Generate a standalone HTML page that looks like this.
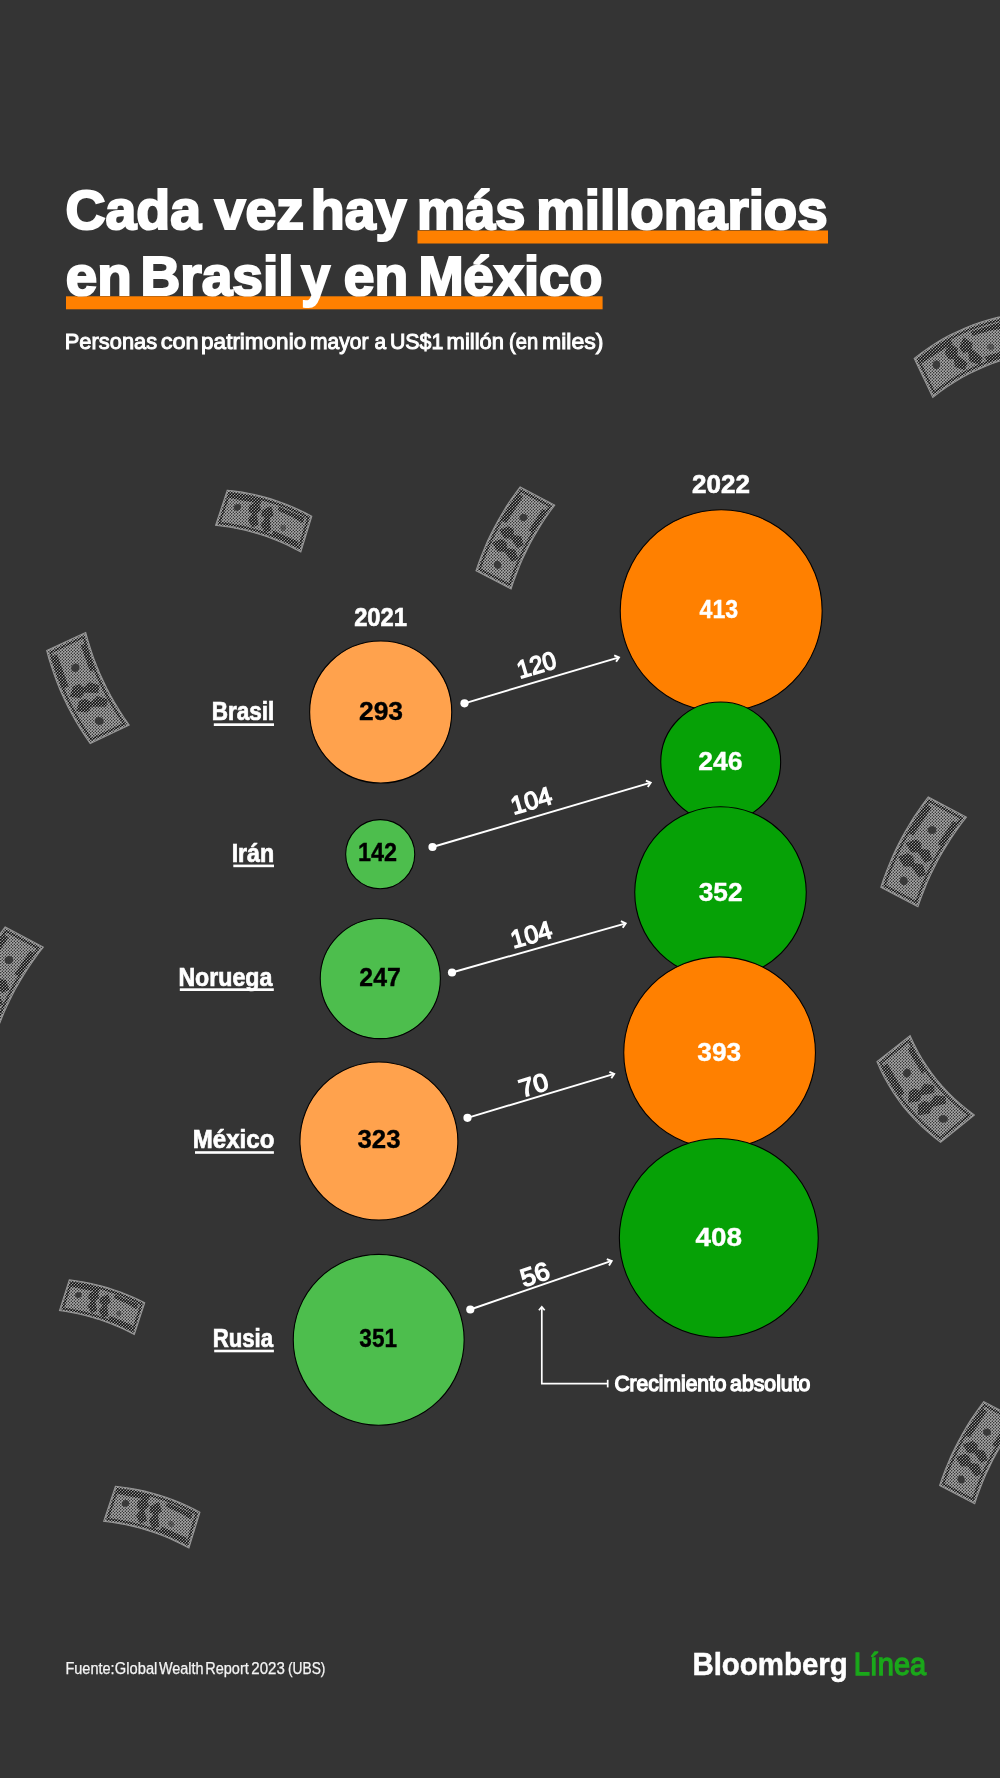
<!DOCTYPE html>
<html lang="es"><head><meta charset="utf-8"><title>Cada vez hay más millonarios en Brasil y en México</title>
<style>
html,body{margin:0;padding:0;background:#343434;}
body{width:1000px;height:1778px;overflow:hidden;font-family:"Liberation Sans", sans-serif;}
svg{display:block;will-change:transform;}
text{font-family:"Liberation Sans", sans-serif;white-space:pre;}
</style></head><body>
<svg width="1000" height="1778" viewBox="0 0 1000 1778">
<defs><pattern id="htL" width="3" height="3" patternUnits="userSpaceOnUse"><rect width="3" height="3" fill="#acacac"/><circle cx="0.75" cy="0.75" r="0.69" fill="#161616"/><circle cx="2.25" cy="2.25" r="0.69" fill="#161616"/></pattern><pattern id="htD" width="3" height="3" patternUnits="userSpaceOnUse"><rect width="3" height="3" fill="#969696"/><circle cx="0.75" cy="0.75" r="1.02" fill="#0c0c0c"/><circle cx="2.25" cy="2.25" r="1.02" fill="#0c0c0c"/></pattern></defs>
<g><path d="M227.3 490.2 L234.7 491.1 L242.1 492.1 L249.4 493.5 L256.6 495.0 L263.8 496.9 L270.9 498.9 L277.9 501.2 L284.8 503.7 L291.7 506.5 L298.4 509.5 L305.2 512.7 L311.8 516.2 L300.8 551.9 L294.1 548.4 L287.3 545.1 L280.5 542.0 L273.6 539.2 L266.6 536.6 L259.5 534.3 L252.4 532.2 L245.2 530.3 L237.9 528.7 L230.5 527.3 L223.1 526.2 L215.6 525.3Z" fill="url(#htL)" stroke="#969696" stroke-width="1.1" stroke-linejoin="miter"/>
<path d="M229.3 493.1 L236.2 494.0 L243.1 495.1 L249.9 496.4 L256.7 497.9 L263.4 499.6 L270.0 501.6 L276.6 503.7 L283.1 506.0 L289.5 508.6 L295.9 511.4 L302.2 514.3 L308.4 517.5 L299.1 547.8 L292.8 544.6 L286.4 541.6 L280.0 538.8 L273.5 536.2 L267.0 533.8 L260.4 531.6 L253.7 529.7 L246.9 527.9 L240.1 526.4 L233.3 525.0 L226.4 523.9 L219.4 523.0Z" fill="none" stroke="url(#htD)" stroke-width="2.2"/>
<path d="M250.1 505.7 L258.1 501.5 L260.3 509.7 L255.9 513.9 L257.9 524.5 L252.3 526.8 L248.5 519.7 L252.8 513.9 L249.0 510.7Z" fill="url(#htD)" stroke="url(#htD)" stroke-width="1.2" stroke-linejoin="round"/>
<path d="M262.9 510.5 L270.8 506.7 L272.9 515.2 L269.1 517.8 L270.6 530.2 L265.1 532.2 L261.4 524.8 L266.1 517.7 L261.9 515.6Z" fill="url(#htD)" stroke="url(#htD)" stroke-width="1.2" stroke-linejoin="round"/>
<path d="M230.6 494.2 L261.2 500.0 L260.2 503.2 L229.6 497.4Z" fill="url(#htD)" stroke="url(#htD)" stroke-width="1.2" stroke-linejoin="round"/>
<path d="M279.3 507.2 L303.9 517.8 L302.4 522.5 L293.1 516.8 L278.4 510.1Z" fill="url(#htD)" stroke="url(#htD)" stroke-width="1.2" stroke-linejoin="round"/>
<path d="M273.6 531.3 L298.2 542.2 L297.1 545.8 L272.5 534.8Z" fill="url(#htD)" stroke="url(#htD)" stroke-width="1.2" stroke-linejoin="round"/>
<path d="M240.9 508.0 L240.3 509.2 L239.1 510.1 L237.8 510.7 L236.3 510.7 L235.0 510.2 L234.1 509.3 L233.7 508.1 L233.9 506.8 L234.6 505.5 L235.7 504.6 L237.1 504.0 L238.5 504.0 L239.8 504.5 L240.7 505.4 L241.1 506.6Z" fill="#333" fill-opacity="0.90"/>
<path d="M285.9 529.0 L285.3 530.0 L284.4 530.7 L283.3 530.9 L282.2 530.7 L281.2 530.0 L280.5 529.0 L280.1 527.9 L280.3 526.7 L280.8 525.7 L281.7 525.0 L282.8 524.8 L284.0 525.0 L285.0 525.6 L285.7 526.6 L286.0 527.8Z" fill="#333" fill-opacity="0.55"/></g>
<g><path d="M115.4 1486.3 L122.8 1487.2 L130.2 1488.2 L137.5 1489.6 L144.7 1491.1 L151.9 1493.0 L158.9 1495.0 L166.0 1497.3 L172.9 1499.8 L179.8 1502.6 L186.5 1505.6 L193.3 1508.8 L199.9 1512.3 L188.9 1548.0 L182.2 1544.5 L175.4 1541.2 L168.6 1538.1 L161.7 1535.3 L154.7 1532.7 L147.6 1530.4 L140.5 1528.3 L133.3 1526.4 L126.0 1524.8 L118.6 1523.4 L111.2 1522.3 L103.7 1521.4Z" fill="url(#htL)" stroke="#969696" stroke-width="1.1" stroke-linejoin="miter"/>
<path d="M117.4 1489.2 L124.3 1490.1 L131.2 1491.2 L138.0 1492.5 L144.8 1494.0 L151.5 1495.7 L158.1 1497.7 L164.7 1499.8 L171.2 1502.1 L177.6 1504.7 L184.0 1507.5 L190.3 1510.4 L196.5 1513.6 L187.2 1543.9 L180.9 1540.7 L174.5 1537.7 L168.1 1534.9 L161.6 1532.3 L155.1 1529.9 L148.5 1527.7 L141.8 1525.8 L135.0 1524.0 L128.2 1522.5 L121.4 1521.1 L114.5 1520.0 L107.5 1519.1Z" fill="none" stroke="url(#htD)" stroke-width="2.2"/>
<path d="M138.2 1501.8 L146.2 1497.6 L148.4 1505.8 L144.0 1510.0 L146.0 1520.6 L140.4 1522.9 L136.6 1515.8 L140.9 1510.0 L137.1 1506.8Z" fill="url(#htD)" stroke="url(#htD)" stroke-width="1.2" stroke-linejoin="round"/>
<path d="M151.0 1506.6 L158.9 1502.8 L161.0 1511.3 L157.2 1513.9 L158.7 1526.3 L153.2 1528.3 L149.5 1520.9 L154.2 1513.8 L150.0 1511.7Z" fill="url(#htD)" stroke="url(#htD)" stroke-width="1.2" stroke-linejoin="round"/>
<path d="M118.7 1490.3 L149.3 1496.1 L148.3 1499.3 L117.7 1493.5Z" fill="url(#htD)" stroke="url(#htD)" stroke-width="1.2" stroke-linejoin="round"/>
<path d="M167.4 1503.3 L192.0 1513.9 L190.5 1518.6 L181.2 1512.9 L166.5 1506.2Z" fill="url(#htD)" stroke="url(#htD)" stroke-width="1.2" stroke-linejoin="round"/>
<path d="M161.7 1527.4 L186.3 1538.3 L185.2 1541.9 L160.6 1530.9Z" fill="url(#htD)" stroke="url(#htD)" stroke-width="1.2" stroke-linejoin="round"/>
<path d="M129.0 1504.1 L128.4 1505.3 L127.2 1506.2 L125.9 1506.8 L124.4 1506.8 L123.1 1506.3 L122.2 1505.4 L121.8 1504.2 L122.0 1502.9 L122.7 1501.6 L123.8 1500.7 L125.2 1500.1 L126.6 1500.1 L127.9 1500.6 L128.8 1501.5 L129.2 1502.7Z" fill="#333" fill-opacity="0.90"/>
<path d="M174.0 1525.1 L173.4 1526.1 L172.5 1526.8 L171.4 1527.0 L170.3 1526.8 L169.3 1526.1 L168.6 1525.1 L168.2 1524.0 L168.4 1522.8 L168.9 1521.8 L169.8 1521.1 L170.9 1520.9 L172.1 1521.1 L173.1 1521.7 L173.8 1522.7 L174.1 1523.9Z" fill="#333" fill-opacity="0.55"/></g>
<g><path d="M69.3 1279.9 L75.9 1280.8 L82.4 1281.8 L88.9 1283.1 L95.3 1284.5 L101.7 1286.1 L108.0 1287.9 L114.3 1289.9 L120.5 1292.1 L126.6 1294.5 L132.7 1297.0 L138.7 1299.8 L144.7 1302.7 L134.3 1334.5 L128.4 1331.5 L122.4 1328.6 L116.4 1326.0 L110.3 1323.5 L104.1 1321.2 L97.9 1319.1 L91.6 1317.2 L85.3 1315.5 L78.9 1314.0 L72.5 1312.6 L66.0 1311.5 L59.5 1310.5Z" fill="url(#htL)" stroke="#969696" stroke-width="1.1" stroke-linejoin="miter"/>
<path d="M71.1 1282.5 L77.2 1283.4 L83.3 1284.4 L89.4 1285.6 L95.4 1287.0 L101.3 1288.5 L107.2 1290.2 L113.1 1292.1 L118.9 1294.1 L124.7 1296.3 L130.4 1298.7 L136.0 1301.2 L141.6 1303.9 L132.8 1330.9 L127.2 1328.2 L121.6 1325.5 L116.0 1323.1 L110.2 1320.8 L104.5 1318.7 L98.7 1316.8 L92.8 1315.0 L86.9 1313.4 L80.9 1311.9 L74.9 1310.6 L68.9 1309.5 L62.8 1308.5Z" fill="none" stroke="url(#htD)" stroke-width="2.2"/>
<path d="M89.6 1293.8 L96.6 1290.2 L98.6 1297.4 L94.7 1301.1 L96.5 1310.4 L91.6 1312.4 L88.3 1306.2 L92.0 1301.1 L88.7 1298.2Z" fill="url(#htD)" stroke="url(#htD)" stroke-width="1.2" stroke-linejoin="round"/>
<path d="M101.0 1298.1 L108.0 1294.8 L109.8 1302.3 L106.4 1304.6 L107.7 1315.5 L102.8 1317.3 L99.6 1310.7 L103.8 1304.4 L100.1 1302.6Z" fill="url(#htD)" stroke="url(#htD)" stroke-width="1.2" stroke-linejoin="round"/>
<path d="M72.3 1283.5 L99.4 1288.9 L98.5 1291.7 L71.4 1286.2Z" fill="url(#htD)" stroke="url(#htD)" stroke-width="1.2" stroke-linejoin="round"/>
<path d="M115.6 1295.2 L137.5 1304.3 L136.2 1308.4 L127.8 1303.5 L114.8 1297.7Z" fill="url(#htD)" stroke="url(#htD)" stroke-width="1.2" stroke-linejoin="round"/>
<path d="M110.3 1316.5 L132.1 1325.9 L131.1 1329.1 L109.3 1319.6Z" fill="url(#htD)" stroke="url(#htD)" stroke-width="1.2" stroke-linejoin="round"/>
<path d="M81.5 1295.7 L80.9 1296.8 L80.0 1297.6 L78.7 1298.0 L77.5 1298.0 L76.4 1297.6 L75.6 1296.8 L75.2 1295.7 L75.3 1294.6 L75.9 1293.5 L76.9 1292.6 L78.1 1292.2 L79.4 1292.2 L80.5 1292.6 L81.3 1293.4 L81.7 1294.5Z" fill="#333" fill-opacity="0.90"/>
<path d="M121.3 1314.4 L120.8 1315.3 L120.0 1315.9 L119.0 1316.1 L118.0 1315.9 L117.1 1315.3 L116.4 1314.4 L116.2 1313.4 L116.3 1312.4 L116.8 1311.5 L117.6 1310.9 L118.6 1310.7 L119.6 1310.9 L120.5 1311.4 L121.1 1312.3 L121.4 1313.4Z" fill="#333" fill-opacity="0.55"/></g>
<g><path d="M914.2 358.4 L921.1 353.1 L928.1 348.1 L935.2 343.5 L942.5 339.1 L949.9 335.1 L957.5 331.4 L965.2 327.9 L973.1 324.8 L981.1 322.0 L989.3 319.5 L997.6 317.4 L1006.0 315.5 L1024.6 354.5 L1016.2 356.4 L1007.9 358.5 L999.7 361.0 L991.7 363.8 L983.8 366.9 L976.1 370.4 L968.5 374.1 L961.1 378.1 L953.8 382.5 L946.7 387.1 L939.7 392.1 L932.8 397.4Z" fill="url(#htL)" stroke="#969696" stroke-width="1.1" stroke-linejoin="miter"/>
<path d="M918.2 359.3 L924.7 354.4 L931.3 349.8 L938.0 345.5 L944.8 341.5 L951.8 337.8 L958.9 334.3 L966.1 331.1 L973.5 328.1 L980.9 325.5 L988.5 323.1 L996.3 321.0 L1004.1 319.1 L1019.9 352.3 L1012.1 354.1 L1004.4 356.2 L996.8 358.6 L989.3 361.3 L981.9 364.2 L974.7 367.4 L967.6 370.9 L960.6 374.7 L953.8 378.7 L947.1 383.0 L940.5 387.6 L934.0 392.4Z" fill="none" stroke="url(#htD)" stroke-width="2.2"/>
<path d="M945.5 353.3 L948.9 343.5 L957.2 348.8 L956.9 355.8 L967.0 363.2 L964.2 369.5 L955.4 366.5 L954.4 358.1 L948.7 358.4Z" fill="url(#htD)" stroke="url(#htD)" stroke-width="1.2" stroke-linejoin="round"/>
<path d="M960.1 347.4 L963.7 338.0 L972.2 343.7 L971.0 348.9 L982.1 358.3 L979.1 364.3 L970.1 360.7 L968.4 351.1 L963.3 352.5Z" fill="url(#htD)" stroke="url(#htD)" stroke-width="1.2" stroke-linejoin="round"/>
<path d="M920.2 359.1 L950.3 339.8 L952.0 343.3 L921.8 362.6Z" fill="url(#htD)" stroke="url(#htD)" stroke-width="1.2" stroke-linejoin="round"/>
<path d="M971.3 332.0 L1000.5 322.7 L1002.9 327.8 L990.4 329.9 L972.8 335.1Z" fill="url(#htD)" stroke="url(#htD)" stroke-width="1.2" stroke-linejoin="round"/>
<path d="M985.4 357.0 L1014.8 348.0 L1016.6 351.9 L987.3 360.9Z" fill="url(#htD)" stroke="url(#htD)" stroke-width="1.2" stroke-linejoin="round"/>
<path d="M939.8 362.4 L940.2 364.0 L940.0 365.7 L939.3 367.3 L938.1 368.4 L936.7 369.0 L935.2 369.0 L933.9 368.3 L933.0 367.1 L932.5 365.5 L932.7 363.7 L933.4 362.2 L934.6 361.0 L936.0 360.4 L937.5 360.5 L938.8 361.2Z" fill="#333" fill-opacity="0.90"/>
<path d="M994.0 345.8 L994.3 347.0 L994.1 348.3 L993.3 349.3 L992.2 350.0 L990.8 350.2 L989.4 349.9 L988.2 349.1 L987.4 348.0 L987.1 346.7 L987.3 345.4 L988.1 344.4 L989.2 343.7 L990.6 343.5 L992.0 343.9 L993.2 344.7Z" fill="#333" fill-opacity="0.55"/></g>
<g><path d="M520.2 486.9 L515.4 493.3 L510.8 499.8 L506.4 506.4 L502.3 513.2 L498.3 520.0 L494.5 526.9 L490.9 534.0 L487.5 541.1 L484.4 548.4 L481.4 555.8 L478.6 563.2 L476.0 570.8 L511.1 589.0 L513.6 581.4 L516.4 574.0 L519.3 566.6 L522.4 559.3 L525.8 552.2 L529.3 545.1 L533.0 538.2 L537.0 531.4 L541.1 524.7 L545.4 518.0 L550.0 511.5 L554.7 505.1Z" fill="url(#htL)" stroke="#969696" stroke-width="1.1" stroke-linejoin="miter"/>
<path d="M520.9 490.7 L516.5 496.7 L512.3 502.9 L508.2 509.1 L504.3 515.4 L500.6 521.8 L497.1 528.3 L493.8 534.9 L490.6 541.6 L487.6 548.4 L484.7 555.2 L482.1 562.2 L479.6 569.2 L509.4 584.7 L511.9 577.7 L514.5 570.7 L517.3 563.8 L520.2 557.1 L523.4 550.4 L526.7 543.8 L530.2 537.3 L533.8 530.9 L537.7 524.6 L541.7 518.3 L545.9 512.2 L550.3 506.2Z" fill="none" stroke="url(#htD)" stroke-width="2.2"/>
<path d="M508.8 526.9 L500.0 530.0 L504.7 538.0 L511.0 537.8 L517.6 547.5 L523.2 544.9 L520.5 536.6 L513.1 535.5 L513.4 530.0Z" fill="url(#htD)" stroke="url(#htD)" stroke-width="1.2" stroke-linejoin="round"/>
<path d="M501.3 539.6 L492.8 542.8 L497.8 551.0 L504.6 551.1 L512.2 561.2 L517.6 558.5 L514.6 550.0 L506.6 548.6 L505.9 542.7Z" fill="url(#htD)" stroke="url(#htD)" stroke-width="1.2" stroke-linejoin="round"/>
<path d="M519.1 494.9 L502.5 520.5 L506.0 522.3 L522.5 496.7Z" fill="url(#htD)" stroke="url(#htD)" stroke-width="1.2" stroke-linejoin="round"/>
<path d="M542.8 509.5 L529.4 530.3 L532.2 531.7 L545.6 511.0Z" fill="url(#htD)" stroke="url(#htD)" stroke-width="1.2" stroke-linejoin="round"/>
<path d="M521.5 520.7 L522.9 521.2 L524.5 521.1 L525.9 520.4 L526.9 519.3 L527.4 518.0 L527.3 516.5 L526.7 515.3 L525.5 514.3 L524.0 513.9 L522.4 514.0 L521.0 514.6 L520.0 515.7 L519.5 517.1 L519.6 518.5 L520.3 519.8Z" fill="#333" fill-opacity="0.90"/>
<path d="M496.2 568.5 L497.7 568.9 L499.1 568.7 L500.3 568.0 L501.1 566.7 L501.3 565.2 L501.0 563.7 L500.2 562.3 L499.0 561.4 L497.5 560.9 L496.1 561.1 L494.9 561.9 L494.1 563.1 L493.8 564.6 L494.2 566.1 L495.0 567.5Z" fill="#333" fill-opacity="0.90"/></g>
<g><path d="M983.8 1401.6 L979.0 1408.0 L974.4 1414.5 L970.0 1421.1 L965.9 1427.9 L961.9 1434.7 L958.1 1441.7 L954.5 1448.7 L951.1 1455.8 L948.0 1463.1 L945.0 1470.5 L942.2 1477.9 L939.6 1485.5 L974.7 1503.7 L977.2 1496.1 L980.0 1488.7 L982.9 1481.3 L986.0 1474.0 L989.4 1466.9 L992.9 1459.8 L996.6 1452.9 L1000.6 1446.1 L1004.7 1439.4 L1009.0 1432.7 L1013.6 1426.2 L1018.3 1419.8Z" fill="url(#htL)" stroke="#969696" stroke-width="1.1" stroke-linejoin="miter"/>
<path d="M984.5 1405.4 L980.1 1411.4 L975.9 1417.6 L971.8 1423.8 L967.9 1430.1 L964.2 1436.5 L960.7 1443.0 L957.4 1449.6 L954.2 1456.3 L951.2 1463.1 L948.3 1469.9 L945.7 1476.9 L943.2 1483.9 L973.0 1499.4 L975.5 1492.4 L978.1 1485.4 L980.9 1478.5 L983.8 1471.8 L987.0 1465.1 L990.3 1458.5 L993.8 1452.0 L997.4 1445.6 L1001.3 1439.3 L1005.3 1433.0 L1009.5 1426.9 L1013.9 1420.9Z" fill="none" stroke="url(#htD)" stroke-width="2.2"/>
<path d="M972.4 1441.6 L963.6 1444.7 L968.3 1452.7 L974.6 1452.5 L981.2 1462.2 L986.8 1459.6 L984.1 1451.3 L976.7 1450.2 L977.0 1444.7Z" fill="url(#htD)" stroke="url(#htD)" stroke-width="1.2" stroke-linejoin="round"/>
<path d="M964.9 1454.3 L956.4 1457.5 L961.4 1465.7 L968.2 1465.8 L975.8 1475.9 L981.2 1473.2 L978.2 1464.7 L970.2 1463.3 L969.5 1457.4Z" fill="url(#htD)" stroke="url(#htD)" stroke-width="1.2" stroke-linejoin="round"/>
<path d="M982.7 1409.6 L966.1 1435.2 L969.6 1437.0 L986.1 1411.4Z" fill="url(#htD)" stroke="url(#htD)" stroke-width="1.2" stroke-linejoin="round"/>
<path d="M1006.4 1424.2 L993.0 1445.0 L995.8 1446.4 L1009.2 1425.7Z" fill="url(#htD)" stroke="url(#htD)" stroke-width="1.2" stroke-linejoin="round"/>
<path d="M985.1 1435.4 L986.5 1435.9 L988.1 1435.8 L989.5 1435.1 L990.5 1434.0 L991.0 1432.7 L990.9 1431.2 L990.3 1430.0 L989.1 1429.0 L987.6 1428.6 L986.0 1428.7 L984.6 1429.3 L983.6 1430.4 L983.1 1431.8 L983.2 1433.2 L983.9 1434.5Z" fill="#333" fill-opacity="0.90"/>
<path d="M959.8 1483.2 L961.3 1483.6 L962.7 1483.4 L963.9 1482.7 L964.7 1481.4 L964.9 1479.9 L964.6 1478.4 L963.8 1477.0 L962.6 1476.1 L961.1 1475.6 L959.7 1475.8 L958.5 1476.6 L957.7 1477.8 L957.4 1479.3 L957.8 1480.8 L958.6 1482.2Z" fill="#333" fill-opacity="0.90"/></g>
<g><path d="M928.3 796.9 L923.1 803.8 L918.2 810.8 L913.4 817.9 L908.9 825.2 L904.6 832.5 L900.5 840.0 L896.7 847.6 L893.1 855.3 L889.7 863.1 L886.5 871.1 L883.5 879.1 L880.8 887.3 L917.9 906.8 L920.7 898.7 L923.8 890.7 L927.0 882.8 L930.5 875.0 L934.2 867.4 L938.1 859.8 L942.3 852.4 L946.7 845.1 L951.3 838.0 L956.1 830.9 L961.1 823.9 L966.4 817.1Z" fill="url(#htL)" stroke="#969696" stroke-width="1.1" stroke-linejoin="miter"/>
<path d="M929.1 801.0 L924.4 807.5 L919.8 814.1 L915.4 820.8 L911.2 827.6 L907.2 834.5 L903.4 841.5 L899.8 848.6 L896.3 855.8 L893.1 863.1 L890.1 870.5 L887.2 878.0 L884.6 885.6 L916.2 902.2 L918.9 894.6 L921.8 887.2 L924.9 879.8 L928.2 872.6 L931.7 865.4 L935.3 858.4 L939.2 851.4 L943.3 844.6 L947.5 837.8 L952.0 831.2 L956.6 824.6 L961.5 818.2Z" fill="none" stroke="url(#htD)" stroke-width="2.2"/>
<path d="M916.0 840.1 L906.5 843.3 L911.6 852.0 L918.3 851.8 L925.4 862.3 L931.6 859.5 L928.7 850.5 L920.7 849.3 L921.0 843.4Z" fill="url(#htD)" stroke="url(#htD)" stroke-width="1.2" stroke-linejoin="round"/>
<path d="M907.9 853.7 L898.8 857.1 L904.1 865.9 L911.4 866.0 L919.4 877.0 L925.3 874.1 L922.2 865.0 L913.5 863.4 L912.8 857.0Z" fill="url(#htD)" stroke="url(#htD)" stroke-width="1.2" stroke-linejoin="round"/>
<path d="M927.1 805.5 L909.2 833.0 L913.0 835.0 L930.9 807.5Z" fill="url(#htD)" stroke="url(#htD)" stroke-width="1.2" stroke-linejoin="round"/>
<path d="M953.3 821.7 L938.5 843.9 L941.5 845.5 L956.3 823.3Z" fill="url(#htD)" stroke="url(#htD)" stroke-width="1.2" stroke-linejoin="round"/>
<path d="M929.8 833.5 L931.4 834.0 L933.1 833.9 L934.6 833.2 L935.8 832.1 L936.3 830.6 L936.2 829.0 L935.5 827.7 L934.2 826.6 L932.6 826.1 L930.9 826.2 L929.3 826.9 L928.2 828.1 L927.7 829.5 L927.8 831.1 L928.5 832.5Z" fill="#333" fill-opacity="0.90"/>
<path d="M902.3 884.8 L903.8 885.2 L905.4 885.0 L906.6 884.2 L907.5 882.9 L907.8 881.3 L907.5 879.6 L906.6 878.1 L905.3 877.1 L903.7 876.6 L902.2 876.8 L900.9 877.6 L900.0 879.0 L899.8 880.6 L900.1 882.3 L901.0 883.7Z" fill="#333" fill-opacity="0.90"/></g>
<g><path d="M5.2 926.9 L0.0 933.8 L-4.9 940.8 L-9.7 947.9 L-14.2 955.2 L-18.5 962.5 L-22.6 970.0 L-26.4 977.6 L-30.0 985.3 L-33.4 993.1 L-36.6 1001.1 L-39.6 1009.1 L-42.3 1017.3 L-5.2 1036.8 L-2.4 1028.7 L0.7 1020.7 L3.9 1012.8 L7.4 1005.0 L11.1 997.4 L15.0 989.8 L19.2 982.4 L23.6 975.1 L28.2 968.0 L33.0 960.9 L38.0 953.9 L43.3 947.1Z" fill="url(#htL)" stroke="#969696" stroke-width="1.1" stroke-linejoin="miter"/>
<path d="M6.0 931.0 L1.3 937.5 L-3.3 944.1 L-7.7 950.8 L-11.9 957.6 L-15.9 964.5 L-19.7 971.5 L-23.3 978.6 L-26.8 985.8 L-30.0 993.1 L-33.0 1000.5 L-35.9 1008.0 L-38.5 1015.6 L-6.9 1032.2 L-4.2 1024.6 L-1.3 1017.2 L1.8 1009.8 L5.1 1002.6 L8.6 995.4 L12.2 988.4 L16.1 981.4 L20.2 974.6 L24.4 967.8 L28.9 961.2 L33.5 954.6 L38.4 948.2Z" fill="none" stroke="url(#htD)" stroke-width="2.2"/>
<path d="M-7.1 970.1 L-16.6 973.3 L-11.5 982.0 L-4.8 981.8 L2.3 992.3 L8.5 989.5 L5.6 980.5 L-2.4 979.3 L-2.1 973.4Z" fill="url(#htD)" stroke="url(#htD)" stroke-width="1.2" stroke-linejoin="round"/>
<path d="M-15.2 983.7 L-24.3 987.1 L-19.0 995.9 L-11.7 996.0 L-3.7 1007.0 L2.2 1004.1 L-0.9 995.0 L-9.6 993.4 L-10.3 987.0Z" fill="url(#htD)" stroke="url(#htD)" stroke-width="1.2" stroke-linejoin="round"/>
<path d="M4.0 935.5 L-13.9 963.0 L-10.1 965.0 L7.8 937.5Z" fill="url(#htD)" stroke="url(#htD)" stroke-width="1.2" stroke-linejoin="round"/>
<path d="M30.2 951.7 L15.4 973.9 L18.4 975.5 L33.2 953.3Z" fill="url(#htD)" stroke="url(#htD)" stroke-width="1.2" stroke-linejoin="round"/>
<path d="M6.7 963.5 L8.3 964.0 L10.0 963.9 L11.5 963.2 L12.7 962.1 L13.2 960.6 L13.1 959.0 L12.4 957.7 L11.1 956.6 L9.5 956.1 L7.8 956.2 L6.2 956.9 L5.1 958.1 L4.6 959.5 L4.7 961.1 L5.4 962.5Z" fill="#333" fill-opacity="0.90"/>
<path d="M-20.8 1014.8 L-19.3 1015.2 L-17.7 1015.0 L-16.5 1014.2 L-15.6 1012.9 L-15.3 1011.3 L-15.6 1009.6 L-16.5 1008.1 L-17.8 1007.1 L-19.4 1006.6 L-20.9 1006.8 L-22.2 1007.6 L-23.1 1009.0 L-23.3 1010.6 L-23.0 1012.3 L-22.1 1013.7Z" fill="#333" fill-opacity="0.90"/></g>
<g><path d="M46.7 650.6 L49.0 659.0 L51.6 667.2 L54.4 675.3 L57.4 683.3 L60.6 691.3 L64.2 699.0 L67.9 706.7 L71.9 714.3 L76.1 721.8 L80.6 729.1 L85.3 736.4 L90.2 743.5 L129.2 725.1 L124.3 718.0 L119.6 710.8 L115.1 703.4 L110.9 696.0 L106.9 688.4 L103.2 680.8 L99.6 673.0 L96.4 665.1 L93.3 657.1 L90.6 649.0 L88.0 640.7 L85.7 632.4Z" fill="url(#htL)" stroke="#969696" stroke-width="1.1" stroke-linejoin="miter"/>
<path d="M50.5 652.5 L52.7 660.2 L55.2 667.9 L57.8 675.5 L60.7 683.0 L63.8 690.4 L67.1 697.7 L70.6 704.9 L74.3 712.0 L78.2 719.0 L82.3 725.9 L86.7 732.7 L91.2 739.4 L124.4 723.8 L119.8 717.1 L115.5 710.3 L111.3 703.4 L107.4 696.4 L103.7 689.3 L100.2 682.1 L96.9 674.8 L93.9 667.5 L91.0 660.0 L88.3 652.4 L85.9 644.7 L83.6 637.0Z" fill="none" stroke="url(#htD)" stroke-width="2.2"/>
<path d="M73.7 686.7 L70.5 696.3 L80.6 697.4 L84.6 691.8 L97.4 692.5 L98.9 685.9 L89.8 682.8 L83.9 688.5 L79.4 684.7Z" fill="url(#htD)" stroke="url(#htD)" stroke-width="1.2" stroke-linejoin="round"/>
<path d="M79.7 701.4 L76.8 710.8 L87.2 711.8 L91.8 706.0 L105.7 706.1 L107.0 699.6 L97.6 696.7 L91.0 702.7 L85.4 699.4Z" fill="url(#htD)" stroke="url(#htD)" stroke-width="1.2" stroke-linejoin="round"/>
<path d="M52.8 656.8 L63.9 687.9 L67.8 686.0 L56.7 655.0Z" fill="url(#htD)" stroke="url(#htD)" stroke-width="1.2" stroke-linejoin="round"/>
<path d="M81.5 645.7 L90.4 670.9 L93.5 669.4 L84.6 644.2Z" fill="url(#htD)" stroke="url(#htD)" stroke-width="1.2" stroke-linejoin="round"/>
<path d="M76.8 671.6 L78.2 670.6 L79.1 669.2 L79.5 667.6 L79.2 665.9 L78.4 664.6 L77.1 663.7 L75.5 663.5 L73.9 663.9 L72.6 664.9 L71.6 666.3 L71.2 668.0 L71.4 669.6 L72.3 670.9 L73.6 671.8 L75.2 672.0Z" fill="#333" fill-opacity="0.90"/>
<path d="M101.5 724.6 L102.8 723.6 L103.6 722.2 L103.7 720.7 L103.2 719.2 L102.0 718.0 L100.5 717.3 L98.7 717.1 L97.1 717.6 L95.7 718.5 L95.0 719.9 L94.8 721.4 L95.4 722.9 L96.5 724.1 L98.1 724.8 L99.8 725.0Z" fill="#333" fill-opacity="0.90"/></g>
<g><path d="M876.9 1061.6 L880.5 1069.7 L884.4 1077.5 L888.6 1085.0 L893.2 1092.4 L898.0 1099.5 L903.1 1106.3 L908.6 1112.9 L914.4 1119.2 L920.5 1125.3 L926.9 1131.2 L933.6 1136.8 L940.6 1142.2 L974.4 1114.9 L967.3 1109.6 L960.6 1104.1 L954.1 1098.4 L948.0 1092.4 L942.2 1086.1 L936.6 1079.6 L931.4 1072.9 L926.6 1065.9 L922.0 1058.7 L917.7 1051.3 L913.7 1043.6 L910.1 1035.6Z" fill="url(#htL)" stroke="#969696" stroke-width="1.1" stroke-linejoin="miter"/>
<path d="M880.7 1062.8 L884.2 1070.2 L888.0 1077.5 L892.0 1084.5 L896.3 1091.3 L900.8 1097.9 L905.7 1104.3 L910.8 1110.5 L916.2 1116.4 L921.8 1122.2 L927.7 1127.7 L933.9 1133.0 L940.4 1138.1 L969.1 1115.0 L962.6 1109.9 L956.4 1104.7 L950.4 1099.3 L944.7 1093.6 L939.3 1087.7 L934.1 1081.6 L929.3 1075.3 L924.7 1068.8 L920.3 1062.1 L916.3 1055.2 L912.5 1048.0 L909.0 1040.6Z" fill="none" stroke="url(#htD)" stroke-width="2.2"/>
<path d="M909.5 1092.1 L908.6 1102.2 L918.7 1100.9 L921.3 1094.6 L933.9 1092.3 L933.7 1085.6 L924.2 1084.6 L919.8 1091.5 L914.6 1088.9Z" fill="url(#htD)" stroke="url(#htD)" stroke-width="1.2" stroke-linejoin="round"/>
<path d="M918.8 1105.0 L918.4 1114.7 L928.8 1113.2 L931.9 1106.5 L945.6 1103.2 L945.1 1096.8 L935.1 1096.2 L930.2 1103.5 L923.9 1101.7Z" fill="url(#htD)" stroke="url(#htD)" stroke-width="1.2" stroke-linejoin="round"/>
<path d="M883.7 1066.7 L900.3 1095.4 L903.7 1092.8 L887.0 1064.1Z" fill="url(#htD)" stroke="url(#htD)" stroke-width="1.2" stroke-linejoin="round"/>
<path d="M908.5 1049.8 L922.1 1073.0 L924.7 1070.8 L911.2 1047.7Z" fill="url(#htD)" stroke="url(#htD)" stroke-width="1.2" stroke-linejoin="round"/>
<path d="M909.2 1076.6 L910.3 1075.3 L910.9 1073.7 L910.9 1072.0 L910.4 1070.5 L909.3 1069.3 L907.9 1068.8 L906.4 1068.8 L904.9 1069.6 L903.8 1070.9 L903.2 1072.5 L903.1 1074.2 L903.7 1075.8 L904.8 1076.9 L906.2 1077.5 L907.8 1077.4Z" fill="#333" fill-opacity="0.90"/>
<path d="M946.4 1121.6 L947.5 1120.4 L947.9 1118.9 L947.6 1117.5 L946.6 1116.2 L945.1 1115.4 L943.4 1115.1 L941.6 1115.4 L940.1 1116.2 L939.1 1117.4 L938.6 1118.9 L938.9 1120.4 L939.9 1121.6 L941.3 1122.5 L943.1 1122.8 L944.9 1122.5Z" fill="#333" fill-opacity="0.90"/></g>
<g>
<rect x="417.5" y="230.5" width="410.5" height="13" fill="#FF8000"/>
<rect x="66" y="296.3" width="536.6" height="13" fill="#FF8000"/>
<text x="65.44" y="229.00" font-size="55.00" font-weight="700" fill="#fff" stroke="#fff" stroke-width="2.20" stroke-linejoin="miter" textLength="135.54" lengthAdjust="spacingAndGlyphs">Cada</text>
<text x="214.70" y="229.00" font-size="55.00" font-weight="700" fill="#fff" stroke="#fff" stroke-width="2.20" stroke-linejoin="miter" textLength="89.38" lengthAdjust="spacingAndGlyphs">vez</text>
<text x="310.70" y="229.00" font-size="55.00" font-weight="700" fill="#fff" stroke="#fff" stroke-width="2.20" stroke-linejoin="miter" textLength="95.75" lengthAdjust="spacingAndGlyphs">hay</text>
<text x="417.02" y="229.00" font-size="55.00" font-weight="700" fill="#fff" stroke="#fff" stroke-width="2.20" stroke-linejoin="miter" textLength="108.38" lengthAdjust="spacingAndGlyphs">más</text>
<text x="536.32" y="229.00" font-size="55.00" font-weight="700" fill="#fff" stroke="#fff" stroke-width="2.20" stroke-linejoin="miter" textLength="291.28" lengthAdjust="spacingAndGlyphs">millonarios</text>
<text x="65.81" y="295.20" font-size="55.00" font-weight="700" fill="#fff" stroke="#fff" stroke-width="2.20" stroke-linejoin="miter" textLength="65.94" lengthAdjust="spacingAndGlyphs">en</text>
<text x="140.47" y="295.20" font-size="55.00" font-weight="700" fill="#fff" stroke="#fff" stroke-width="2.20" stroke-linejoin="miter" textLength="153.18" lengthAdjust="spacingAndGlyphs">Brasil</text>
<text x="301.37" y="295.20" font-size="55.00" font-weight="700" fill="#fff" stroke="#fff" stroke-width="2.20" stroke-linejoin="miter" textLength="28.85" lengthAdjust="spacingAndGlyphs">y</text>
<text x="343.89" y="295.20" font-size="55.00" font-weight="700" fill="#fff" stroke="#fff" stroke-width="2.20" stroke-linejoin="miter" textLength="64.37" lengthAdjust="spacingAndGlyphs">en</text>
<text x="418.44" y="295.20" font-size="55.00" font-weight="700" fill="#fff" stroke="#fff" stroke-width="2.20" stroke-linejoin="miter" textLength="183.85" lengthAdjust="spacingAndGlyphs">México</text>
<text x="64.75" y="349.00" font-size="22.50" font-weight="400" fill="#fff" stroke="#fff" stroke-width="1.00" stroke-linejoin="miter" textLength="92.41" lengthAdjust="spacingAndGlyphs">Personas</text>
<text x="160.78" y="349.00" font-size="22.50" font-weight="400" fill="#fff" stroke="#fff" stroke-width="1.00" stroke-linejoin="miter" textLength="37.91" lengthAdjust="spacingAndGlyphs">con</text>
<text x="201.12" y="349.00" font-size="22.50" font-weight="400" fill="#fff" stroke="#fff" stroke-width="1.00" stroke-linejoin="miter" textLength="105.04" lengthAdjust="spacingAndGlyphs">patrimonio</text>
<text x="310.02" y="349.00" font-size="22.50" font-weight="400" fill="#fff" stroke="#fff" stroke-width="1.00" stroke-linejoin="miter" textLength="58.53" lengthAdjust="spacingAndGlyphs">mayor</text>
<text x="374.57" y="349.00" font-size="22.50" font-weight="400" fill="#fff" stroke="#fff" stroke-width="1.00" stroke-linejoin="miter" textLength="11.65" lengthAdjust="spacingAndGlyphs">a</text>
<text x="389.94" y="349.00" font-size="22.50" font-weight="400" fill="#fff" stroke="#fff" stroke-width="1.00" stroke-linejoin="miter" textLength="53.35" lengthAdjust="spacingAndGlyphs">US$1</text>
<text x="446.62" y="349.00" font-size="22.50" font-weight="400" fill="#fff" stroke="#fff" stroke-width="1.00" stroke-linejoin="miter" textLength="57.43" lengthAdjust="spacingAndGlyphs">millón</text>
<text x="508.99" y="349.00" font-size="22.50" font-weight="400" fill="#fff" stroke="#fff" stroke-width="1.00" stroke-linejoin="miter" textLength="29.12" lengthAdjust="spacingAndGlyphs">(en</text>
<text x="541.97" y="349.00" font-size="22.50" font-weight="400" fill="#fff" stroke="#fff" stroke-width="1.00" stroke-linejoin="miter" textLength="61.45" lengthAdjust="spacingAndGlyphs">miles)</text>
<text x="354.13" y="626.40" font-size="25.00" font-weight="700" fill="#fff" stroke="#fff" stroke-width="0.60" stroke-linejoin="miter" textLength="52.98" lengthAdjust="spacingAndGlyphs">2021</text>
<text x="692.05" y="492.60" font-size="25.00" font-weight="700" fill="#fff" stroke="#fff" stroke-width="0.60" stroke-linejoin="miter" textLength="57.87" lengthAdjust="spacingAndGlyphs">2022</text>
<circle cx="380.7" cy="712.0" r="71.05" fill="#FFA24D" stroke="#000" stroke-width="1.1"/>
<circle cx="380.2" cy="854.2" r="34.55" fill="#4DBE4D" stroke="#000" stroke-width="1.1"/>
<circle cx="380.3" cy="978.6" r="60.05" fill="#4DBE4D" stroke="#000" stroke-width="1.1"/>
<circle cx="378.9" cy="1141.0" r="78.95" fill="#FFA24D" stroke="#000" stroke-width="1.1"/>
<circle cx="378.7" cy="1339.8" r="85.45" fill="#4DBE4D" stroke="#000" stroke-width="1.1"/>
<circle cx="721.2" cy="610.7" r="100.95" fill="#FF8000" stroke="#000" stroke-width="1.1"/>
<circle cx="720.7" cy="761.9" r="59.95" fill="#06A106" stroke="#000" stroke-width="1.1"/>
<circle cx="720.5" cy="892.5" r="85.75" fill="#06A106" stroke="#000" stroke-width="1.1"/>
<circle cx="719.6" cy="1052.7" r="95.85" fill="#FF8000" stroke="#000" stroke-width="1.1"/>
<circle cx="718.8" cy="1238.0" r="99.45" fill="#06A106" stroke="#000" stroke-width="1.1"/>
<text x="358.92" y="720.00" font-size="25.00" font-weight="700" fill="#000" stroke="#000" stroke-width="0.35" stroke-linejoin="miter" textLength="44.21" lengthAdjust="spacingAndGlyphs">293</text>
<text x="358.12" y="861.40" font-size="25.00" font-weight="700" fill="#000" stroke="#000" stroke-width="0.35" stroke-linejoin="miter" textLength="39.01" lengthAdjust="spacingAndGlyphs">142</text>
<text x="359.33" y="986.00" font-size="25.00" font-weight="700" fill="#000" stroke="#000" stroke-width="0.35" stroke-linejoin="miter" textLength="41.44" lengthAdjust="spacingAndGlyphs">247</text>
<text x="357.49" y="1148.40" font-size="25.00" font-weight="700" fill="#000" stroke="#000" stroke-width="0.35" stroke-linejoin="miter" textLength="43.05" lengthAdjust="spacingAndGlyphs">323</text>
<text x="359.32" y="1347.00" font-size="25.00" font-weight="700" fill="#000" stroke="#000" stroke-width="0.35" stroke-linejoin="miter" textLength="37.74" lengthAdjust="spacingAndGlyphs">351</text>
<text x="699.56" y="618.00" font-size="25.00" font-weight="700" fill="#fff" stroke="#fff" stroke-width="0.35" stroke-linejoin="miter" textLength="38.66" lengthAdjust="spacingAndGlyphs">413</text>
<text x="698.29" y="770.00" font-size="25.00" font-weight="700" fill="#fff" stroke="#fff" stroke-width="0.35" stroke-linejoin="miter" textLength="44.36" lengthAdjust="spacingAndGlyphs">246</text>
<text x="698.69" y="900.60" font-size="25.00" font-weight="700" fill="#fff" stroke="#fff" stroke-width="0.35" stroke-linejoin="miter" textLength="43.88" lengthAdjust="spacingAndGlyphs">352</text>
<text x="697.28" y="1060.60" font-size="25.00" font-weight="700" fill="#fff" stroke="#fff" stroke-width="0.35" stroke-linejoin="miter" textLength="43.85" lengthAdjust="spacingAndGlyphs">393</text>
<text x="695.58" y="1245.60" font-size="25.00" font-weight="700" fill="#fff" stroke="#fff" stroke-width="0.35" stroke-linejoin="miter" textLength="46.49" lengthAdjust="spacingAndGlyphs">408</text>
<g stroke="#fff" stroke-width="1.9" fill="none" stroke-linecap="butt" stroke-linejoin="miter">
<line x1="464.5" y1="703.3" x2="618.2" y2="657.6"/>
<polyline points="616.1,661.7 619.0,657.4 614.2,655.3"/>
</g>
<circle cx="464.5" cy="703.3" r="4.1" fill="#fff"/>
<g transform="translate(537.0 664.8) rotate(-16.6)">
<text x="-20.22" y="8.60" font-size="25.00" font-weight="400" fill="#fff" stroke="#fff" stroke-width="1.40" stroke-linejoin="miter" textLength="39.59" lengthAdjust="spacingAndGlyphs">120</text>
</g>
<g stroke="#fff" stroke-width="1.9" fill="none" stroke-linecap="butt" stroke-linejoin="miter">
<line x1="432.5" y1="847.0" x2="649.9" y2="782.9"/>
<polyline points="647.8,787.0 650.7,782.7 645.9,780.6"/>
</g>
<circle cx="432.5" cy="847.0" r="4.1" fill="#fff"/>
<g transform="translate(532.3 800.3) rotate(-16.4)">
<text x="-21.95" y="8.60" font-size="25.00" font-weight="400" fill="#fff" stroke="#fff" stroke-width="1.40" stroke-linejoin="miter" textLength="41.64" lengthAdjust="spacingAndGlyphs">104</text>
</g>
<g stroke="#fff" stroke-width="1.9" fill="none" stroke-linecap="butt" stroke-linejoin="miter">
<line x1="452.0" y1="972.5" x2="624.9" y2="923.6"/>
<polyline points="622.7,927.7 625.7,923.4 620.9,921.2"/>
</g>
<circle cx="452.0" cy="972.5" r="4.1" fill="#fff"/>
<g transform="translate(532.3 934.3) rotate(-15.8)">
<text x="-21.95" y="8.60" font-size="25.00" font-weight="400" fill="#fff" stroke="#fff" stroke-width="1.40" stroke-linejoin="miter" textLength="41.64" lengthAdjust="spacingAndGlyphs">104</text>
</g>
<g stroke="#fff" stroke-width="1.9" fill="none" stroke-linecap="butt" stroke-linejoin="miter">
<line x1="467.5" y1="1117.8" x2="613.4" y2="1074.2"/>
<polyline points="611.3,1078.3 614.2,1074.0 609.4,1071.9"/>
</g>
<circle cx="467.5" cy="1117.8" r="4.1" fill="#fff"/>
<g transform="translate(533.8 1085.0) rotate(-16.6)">
<text x="-15.01" y="8.60" font-size="25.00" font-weight="400" fill="#fff" stroke="#fff" stroke-width="1.40" stroke-linejoin="miter" textLength="29.39" lengthAdjust="spacingAndGlyphs">70</text>
</g>
<g stroke="#fff" stroke-width="1.9" fill="none" stroke-linecap="butt" stroke-linejoin="miter">
<line x1="470.3" y1="1309.5" x2="610.9" y2="1261.2"/>
<polyline points="609.0,1265.4 611.7,1261.0 606.8,1259.1"/>
</g>
<circle cx="470.3" cy="1309.5" r="4.1" fill="#fff"/>
<g transform="translate(535.0 1274.4) rotate(-19.0)">
<text x="-14.69" y="8.60" font-size="25.00" font-weight="400" fill="#fff" stroke="#fff" stroke-width="1.40" stroke-linejoin="miter" textLength="29.13" lengthAdjust="spacingAndGlyphs">56</text>
</g>
<g stroke="#fff" stroke-width="1.7" fill="none" stroke-linecap="butt" stroke-linejoin="miter">
<polyline points="541.8,1307.5 541.8,1383.6 607.7,1383.6"/>
<line x1="607.7" y1="1379.8" x2="607.7" y2="1387.4"/>
<polyline points="538.9,1310.2 541.8,1306.9 544.7,1310.2"/>
</g>
<text x="614.41" y="1390.80" font-size="21.30" font-weight="400" fill="#fff" stroke="#fff" stroke-width="1.35" stroke-linejoin="miter" textLength="112.16" lengthAdjust="spacingAndGlyphs">Crecimiento</text>
<text x="730.10" y="1390.80" font-size="21.30" font-weight="400" fill="#fff" stroke="#fff" stroke-width="1.35" stroke-linejoin="miter" textLength="80.30" lengthAdjust="spacingAndGlyphs">absoluto</text>
<text x="211.65" y="720.00" font-size="26.00" font-weight="700" fill="#fff" stroke="#fff" stroke-width="0.70" stroke-linejoin="miter" textLength="62.65" lengthAdjust="spacingAndGlyphs">Brasil</text>
<rect x="213.8" y="723.3" width="60.2" height="2.7" fill="#fff"/>
<text x="231.63" y="861.50" font-size="26.00" font-weight="700" fill="#fff" stroke="#fff" stroke-width="0.70" stroke-linejoin="miter" textLength="42.61" lengthAdjust="spacingAndGlyphs">Irán</text>
<rect x="233.3" y="864.6" width="40.7" height="2.6" fill="#fff"/>
<text x="178.39" y="985.60" font-size="26.00" font-weight="700" fill="#fff" stroke="#fff" stroke-width="0.70" stroke-linejoin="miter" textLength="94.05" lengthAdjust="spacingAndGlyphs">Noruega</text>
<rect x="179.8" y="988.3" width="94.0" height="2.7" fill="#fff"/>
<text x="192.76" y="1148.40" font-size="26.00" font-weight="700" fill="#fff" stroke="#fff" stroke-width="0.70" stroke-linejoin="miter" textLength="81.64" lengthAdjust="spacingAndGlyphs">México</text>
<rect x="195.0" y="1151.2" width="78.9" height="2.6" fill="#fff"/>
<text x="212.67" y="1347.00" font-size="26.00" font-weight="700" fill="#fff" stroke="#fff" stroke-width="0.70" stroke-linejoin="miter" textLength="60.49" lengthAdjust="spacingAndGlyphs">Rusia</text>
<rect x="214.2" y="1349.7" width="59.7" height="2.6" fill="#fff"/>
<text x="65.41" y="1674.40" font-size="15.60" font-weight="400" fill="#f4f4f4" stroke="#f4f4f4" stroke-width="0.25" stroke-linejoin="miter" textLength="49.22" lengthAdjust="spacingAndGlyphs">Fuente:</text>
<text x="114.84" y="1674.40" font-size="15.60" font-weight="400" fill="#f4f4f4" stroke="#f4f4f4" stroke-width="0.25" stroke-linejoin="miter" textLength="42.49" lengthAdjust="spacingAndGlyphs">Global</text>
<text x="158.94" y="1674.40" font-size="15.60" font-weight="400" fill="#f4f4f4" stroke="#f4f4f4" stroke-width="0.25" stroke-linejoin="miter" textLength="44.66" lengthAdjust="spacingAndGlyphs">Wealth</text>
<text x="205.20" y="1674.40" font-size="15.60" font-weight="400" fill="#f4f4f4" stroke="#f4f4f4" stroke-width="0.25" stroke-linejoin="miter" textLength="43.58" lengthAdjust="spacingAndGlyphs">Report</text>
<text x="251.25" y="1674.40" font-size="15.60" font-weight="400" fill="#f4f4f4" stroke="#f4f4f4" stroke-width="0.25" stroke-linejoin="miter" textLength="33.55" lengthAdjust="spacingAndGlyphs">2023</text>
<text x="288.03" y="1674.40" font-size="15.60" font-weight="400" fill="#f4f4f4" stroke="#f4f4f4" stroke-width="0.25" stroke-linejoin="miter" textLength="37.38" lengthAdjust="spacingAndGlyphs">(UBS)</text>
<text x="692.39" y="1675.00" font-size="31.00" font-weight="700" fill="#fff" stroke="#fff" stroke-width="0.50" stroke-linejoin="miter" textLength="155.46" lengthAdjust="spacingAndGlyphs">Bloomberg</text>
<text x="853.64" y="1675.00" font-size="31.00" font-weight="400" fill="#1AA81A" stroke="#1AA81A" stroke-width="1.30" stroke-linejoin="miter" textLength="72.58" lengthAdjust="spacingAndGlyphs">Línea</text>
</g>
</svg></body></html>
